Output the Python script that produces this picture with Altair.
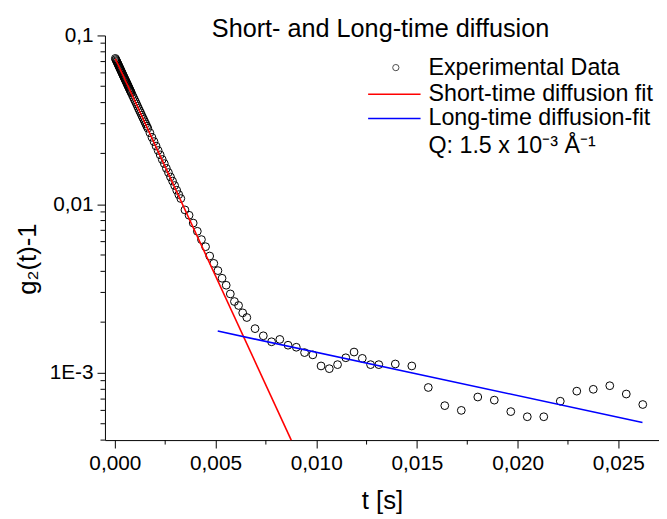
import altair as alt
import pandas as pd

# ---------------- data ----------------
t_exp = [
    0.0000256, 0.0000512, 0.0000768, 0.0001024, 0.0001280, 0.0001536, 0.0001792, 0.0002048,
    0.0002304, 0.0002560, 0.0002816, 0.0003072, 0.0003328, 0.0003584, 0.0003840, 0.0004096,
    0.0004352, 0.0004608, 0.0004864, 0.0005120, 0.0005376, 0.0005632, 0.0005888, 0.0006144,
    0.0006400, 0.0006656, 0.0006912, 0.0007168, 0.0007424, 0.0007680, 0.0007936, 0.0008192,
    0.0008704, 0.0009216, 0.0009728, 0.0010240, 0.0010752, 0.0011264, 0.0011776, 0.0012288,
    0.0012800, 0.0013312, 0.0013824, 0.0014336, 0.0014848, 0.0015360, 0.0015872, 0.0016384,
    0.0017408, 0.0018432, 0.0019456, 0.0020480, 0.0021504, 0.0022528, 0.0023552, 0.0024576,
    0.0025600, 0.0026624, 0.0027648, 0.0028672, 0.0029696, 0.0030720, 0.0031744, 0.0032768,
    0.0034816, 0.0036864, 0.0038912, 0.0040960, 0.0043008, 0.0045056, 0.0047104, 0.0049152,
    0.0051200, 0.0053248, 0.0055296, 0.0057344, 0.0059392, 0.0061440, 0.0063488, 0.0065536,
    0.0069632, 0.0073728, 0.0077824, 0.0081920, 0.0086016, 0.0090112, 0.0094208, 0.0098304,
    0.0102400, 0.0106496, 0.0110592, 0.0114688, 0.0118784, 0.0122880, 0.0126976, 0.0131072,
    0.0139264, 0.0147456, 0.0155648, 0.0163840, 0.0172032, 0.0180224, 0.0188416, 0.0196608,
    0.0204800, 0.0212992, 0.0221184, 0.0229376, 0.0237568, 0.0245760, 0.0253952, 0.0262144,
]
g_exp = [
    0.0731, 0.0720, 0.0709, 0.0699, 0.0688, 0.0678, 0.0668, 0.0657,
    0.0648, 0.0638, 0.0628, 0.0619, 0.0609, 0.0600, 0.0591, 0.0582,
    0.0573, 0.0565, 0.0556, 0.0548, 0.0540, 0.0532, 0.0524, 0.0516,
    0.0508, 0.0501, 0.0493, 0.0486, 0.0478, 0.0471, 0.0464, 0.0457,
    0.0443, 0.0430, 0.0417, 0.0405, 0.0393, 0.0381, 0.0369, 0.0358,
    0.0348, 0.0337, 0.0327, 0.0318, 0.0308, 0.0299, 0.0290, 0.0282,
    0.0265, 0.0249, 0.0235, 0.0221, 0.0208, 0.0196, 0.0184, 0.0174,
    0.0163, 0.0154, 0.0145, 0.0137, 0.0129, 0.0121, 0.0114, 0.0108,
    0.00925, 0.00860, 0.00773, 0.00691, 0.00617, 0.00560, 0.00493, 0.00446,
    0.00404, 0.00364, 0.00331, 0.00294, 0.00265, 0.00251, 0.00227, 0.00213,
    0.00183, 0.00166, 0.00153, 0.00158, 0.00146, 0.00142, 0.00132, 0.00128,
    0.00110, 0.00106, 0.00112, 0.00123, 0.00133, 0.00122, 0.00112, 0.00112,
    0.00113, 0.00110, 0.00082, 0.00064, 0.00060, 0.00072, 0.00069, 0.00059,
    0.00055, 0.00055, 0.00068, 0.00078, 0.00080, 0.00084, 0.00075, 0.00065,
]
short_t = [0.0000256, 0.00876]
short_g = [0.0728, 0.0004]
long_t = [0.00511, 0.0262]
long_g = [0.00177, 0.000509]

x_major = [0.0, 0.005, 0.010, 0.015, 0.020, 0.025]
x_minor = [0.0025, 0.0075, 0.0125, 0.0175, 0.0225]
y_major = [0.001, 0.01, 0.1]
y_minor = [0.0004, 0.0005, 0.0006, 0.0007, 0.0008, 0.0009,
           0.002, 0.003, 0.004, 0.005, 0.006, 0.007, 0.008, 0.009,
           0.02, 0.03, 0.04, 0.05, 0.06, 0.07, 0.08, 0.09]

title_text = "Short- and Long-time diffusion"
legend_labels = ["Experimental Data", "Short-time diffusion fit", "Long-time diffusion-fit"]
q_text = "Q: 1.5 x 10\u207b\u00b3 \u00c5\u207b\u00b9"
x_title = "t [s]"
y_title = "g\u2082(t)-1"

# ---------------- styling ----------------
W, H = 560, 409
FONT = "Liberation Sans"

df_exp = pd.DataFrame({"t": t_exp, "g": g_exp})
df_short = pd.DataFrame({"t": short_t, "g": short_g})
df_long = pd.DataFrame({"t": long_t, "g": long_g})
df_xminor = pd.DataFrame({"t": x_minor})
df_yminor = pd.DataFrame({"g": y_minor})
one = pd.DataFrame({"k": [0]})

xs = alt.Scale(domain=[-0.00049, 0.02702], nice=False, zero=False)
ys = alt.Scale(type="log", domain=[0.0004, 0.1], nice=False)

x_axis = alt.Axis(
    values=x_major, labelExpr="replace(format(datum.value, '.3f'), '.', ',')",
    title=x_title, grid=False, tickSize=8, tickColor="black", domainColor="black",
    labelFont=FONT, labelFontSize=21, labelColor="black", labelPadding=5,
    titleFont=FONT, titleFontSize=26, titleFontWeight="normal", titleColor="black",
    titlePadding=14, labelFlush=False,
)
y_axis = alt.Axis(
    values=y_major,
    labelExpr="datum.value >= 0.05 ? '0,1' : (datum.value >= 0.005 ? '0,01' : '1E-3')",
    title=None, grid=False, tickSize=8, tickColor="black", domainColor="black",
    labelFont=FONT, labelFontSize=21, labelColor="black", labelPadding=4,
    labelFlush=False,
)

points = alt.Chart(df_exp).mark_point(
    shape="circle", filled=False, color="black", size=62, strokeWidth=1, opacity=1
).encode(
    x=alt.X("t:Q", scale=xs, axis=x_axis),
    y=alt.Y("g:Q", scale=ys, axis=y_axis),
)

short_line = alt.Chart(df_short).mark_line(color="#ff0000", strokeWidth=1.6).encode(
    x=alt.X("t:Q", scale=xs), y=alt.Y("g:Q", scale=ys)
)
long_line = alt.Chart(df_long).mark_line(color="#0000ff", strokeWidth=1.6).encode(
    x=alt.X("t:Q", scale=xs), y=alt.Y("g:Q", scale=ys)
)

x_minor_ticks = alt.Chart(df_xminor).mark_rule(color="black", strokeWidth=1).encode(
    x=alt.X("t:Q", scale=xs), y=alt.value(H), y2=alt.value(H + 4.5)
)
y_minor_ticks = alt.Chart(df_yminor).mark_rule(color="black", strokeWidth=1).encode(
    y=alt.Y("g:Q", scale=ys), x=alt.value(0), x2=alt.value(-4.5)
)

title = alt.Chart(one).mark_text(
    text=title_text, font=FONT, fontSize=25.5, color="black", align="center", baseline="alphabetic"
).encode(x=alt.value(278.5), y=alt.value(2))

y_title_mark = alt.Chart(one).mark_text(
    text=y_title, font=FONT, fontSize=26, color="black", align="center", baseline="middle",
    angle=270,
).encode(x=alt.value(-78), y=alt.value(226))

LX_TEXT = 327
leg_circle = alt.Chart(one).mark_point(
    shape="circle", filled=False, color="black", size=40, strokeWidth=1
).encode(x=alt.value(294), y=alt.value(32.5))
leg_red = alt.Chart(one).mark_rule(color="#ff0000", strokeWidth=1.6).encode(
    x=alt.value(266), x2=alt.value(319), y=alt.value(59.5)
)
leg_blue = alt.Chart(one).mark_rule(color="#0000ff", strokeWidth=1.6).encode(
    x=alt.value(266), x2=alt.value(319), y=alt.value(84)
)
leg_texts = []
for lab, yy in zip(legend_labels + [q_text], [32.5, 59.5, 84, 112]):
    leg_texts.append(
        alt.Chart(one).mark_text(
            text=lab, font=FONT, fontSize=23.5, color="black", align="left", baseline="middle"
        ).encode(x=alt.value(LX_TEXT), y=alt.value(yy))
    )

chart = alt.layer(
    points, short_line, long_line, x_minor_ticks, y_minor_ticks, title, y_title_mark,
    leg_circle, leg_red, leg_blue, *leg_texts
).properties(
    width=W, height=H,
    padding={"left": 98, "top": 25, "right": 0, "bottom": 76},
    autosize=alt.AutoSizeParams(type="none"),
    background="white",
).configure_view(stroke=None)

chart.save("out.html", embed_options={"renderer": "svg", "actions": False})
